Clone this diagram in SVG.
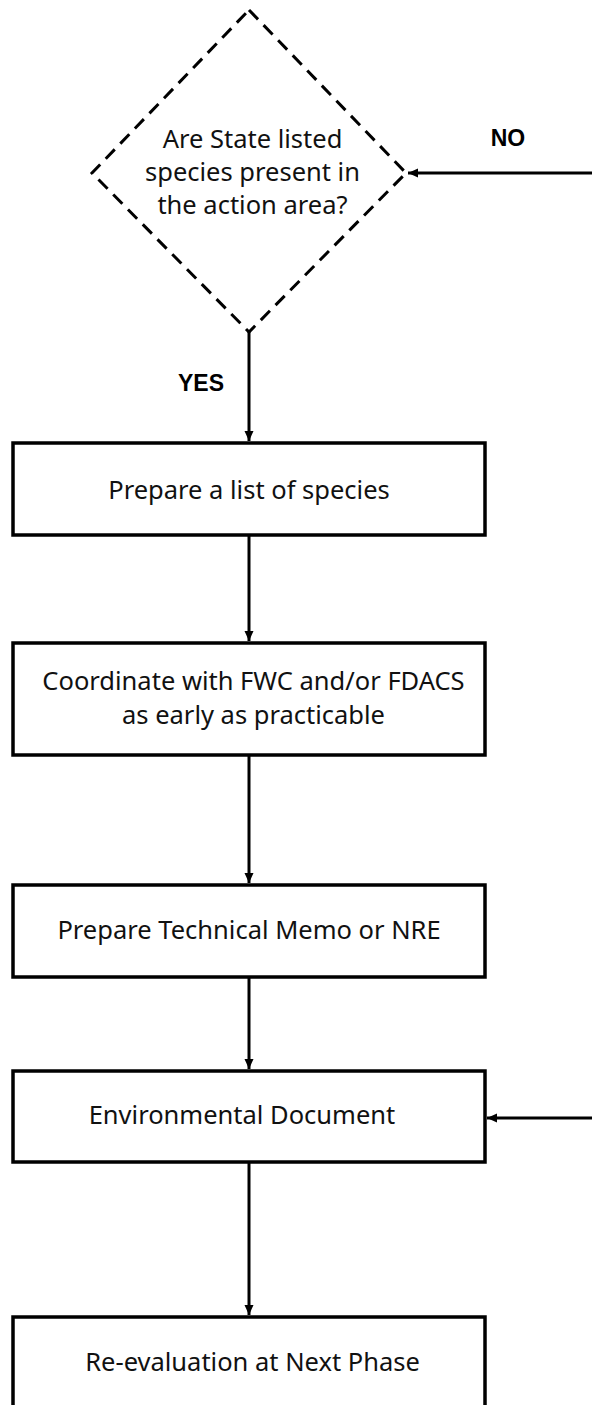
<svg xmlns="http://www.w3.org/2000/svg" width="592" height="1405" viewBox="0 0 592 1405">
<style>
.box{fill:#fff;stroke:#000;stroke-width:3.5}
.dia{fill:#fff;stroke:#000;stroke-width:3;stroke-dasharray:13 8}
.t{font-family:"Noto Sans","Open Sans",sans-serif;font-size:25.5px;fill:#111;text-anchor:middle}
.lbl{font-family:"Liberation Sans",Arial,sans-serif;font-size:23px;font-weight:bold;fill:#000;text-anchor:middle}
.c{stroke:#000;stroke-width:3;fill:none;marker-end:url(#ah)}
</style>
<defs>
<marker id="ah" markerWidth="12" markerHeight="12" refX="10" refY="6" orient="auto" markerUnits="userSpaceOnUse">
<path d="M0,1.5 L10,6 L0,10.5 Z" fill="#000"/>
</marker>
</defs>
<rect width="592" height="1405" fill="#fff"/>
<g id="connectors">
<path class="c" d="M592,173 H408"/>
<path class="c" d="M249,332 V441"/>
<path class="c" d="M249,535 V641"/>
<path class="c" d="M249,755 V883"/>
<path class="c" d="M249,977 V1069"/>
<path class="c" d="M592,1118 H487"/>
<path class="c" d="M249,1162 V1315"/>
<text class="lbl" x="508" y="146">NO</text>
<text class="lbl" x="201" y="391">YES</text>
</g>
<g id="decision">
<path class="dia" d="M249,10 L406,173 L249,332 L92,173 Z"/>
<text class="t" x="252.5" y="148">Are State listed</text>
<text class="t" x="252.5" y="181">species present in</text>
<text class="t" x="252.5" y="214">the action area?</text>
</g>
<g id="box1">
<rect class="box" x="13" y="443" width="472" height="92"/>
<text class="t" x="249" y="499">Prepare a list of species</text>
</g>
<g id="box2">
<rect class="box" x="13" y="643" width="472" height="112"/>
<text class="t" x="253.5" y="690">Coordinate with FWC and/or FDACS</text>
<text class="t" x="253.5" y="724">as early as practicable</text>
</g>
<g id="box3">
<rect class="box" x="13" y="885" width="472" height="92"/>
<text class="t" x="249" y="939">Prepare Technical Memo or NRE</text>
</g>
<g id="box4">
<rect class="box" x="13" y="1071" width="472" height="91"/>
<text class="t" x="242" y="1124">Environmental Document</text>
</g>
<g id="box5">
<rect class="box" x="13" y="1317" width="472" height="100"/>
<text class="t" x="252.5" y="1371">Re-evaluation at Next Phase</text>
</g>
</svg>
